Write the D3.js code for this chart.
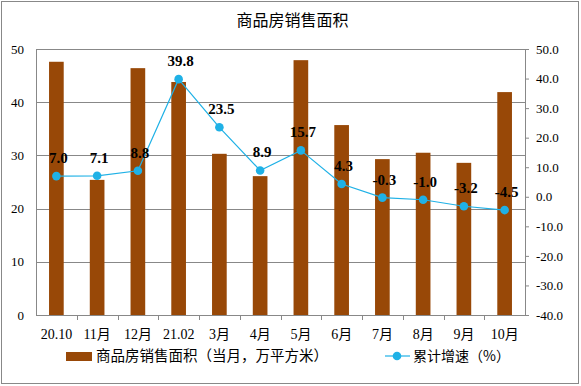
<!DOCTYPE html>
<html>
<head>
<meta charset="utf-8">
<script src="https://cdn.jsdelivr.net/npm/d3@7"></script>
<style>
  body { margin: 0; background: #fff; }
  svg { display: block; }
</style>
</head>
<body>
<div id="chart"></div>
<script>
// Chart data
const categories = ['20.10', '11月', '12月', '21.02', '3月', '4月', '5月', '6月', '7月', '8月', '9月', '10月'];
const areaValues = [47.6, 25.4, 46.4, 43.8, 30.3, 26.1, 47.9, 35.7, 29.3, 30.5, 28.6, 41.9];
const growthValues = [7.0, 7.1, 8.8, 39.8, 23.5, 8.9, 15.7, 4.3, -0.3, -1.0, -3.2, -4.5];
const leftTicks = [0, 10, 20, 30, 40, 50];
const rightTicks = [-40, -30, -20, -10, 0, 10, 20, 30, 40, 50];

const W = 581;
const H = 386;
const margin = { top: 49, right: 56, bottom: 71, left: 36 };
const width = W - margin.left - margin.right;
const height = H - margin.top - margin.bottom;

const barColor = '#984807';
const lineColor = '#1fb1e6';
const gridColor = '#888';
const serif = '"Liberation Serif", "Times New Roman", serif';
const cjk = '"Noto Sans CJK SC", "Liberation Serif", sans-serif';

const svg = d3.select('#chart').append('svg')
  .attr('width', W)
  .attr('height', H);

// outer frame
svg.append('rect')
  .attr('x', 1.5).attr('y', 1.5)
  .attr('width', W - 4).attr('height', H - 4)
  .attr('fill', 'none')
  .attr('stroke', '#888');

svg.append('text')
  .attr('x', W / 2 + 2)
  .attr('y', 26)
  .attr('text-anchor', 'middle')
  .style('font-family', cjk)
  .style('font-size', '16px')
  .text('商品房销售面积');

const g = svg.append('g')
  .attr('transform', `translate(${margin.left},${margin.top})`);

const x = d3.scaleBand()
  .domain(categories)
  .range([0, width])
  .paddingInner(0.64)
  .paddingOuter(0.32);

const yL = d3.scaleLinear().domain([0, 50]).range([height, 0]);
const yR = d3.scaleLinear().domain([-40, 50]).range([height, 0]);

// gridlines
g.selectAll('line.grid')
  .data(leftTicks.slice(1))
  .enter().append('line')
  .attr('class', 'grid')
  .attr('x1', 0).attr('x2', width)
  .attr('y1', d => Math.round(yL(d)) + 0.5)
  .attr('y2', d => Math.round(yL(d)) + 0.5)
  .attr('stroke', gridColor);

// plot frame: left, right, bottom
g.append('line').attr('x1', 0.5).attr('x2', 0.5).attr('y1', 0).attr('y2', height).attr('stroke', gridColor);
g.append('line').attr('x1', width + 0.5).attr('x2', width + 0.5).attr('y1', 0).attr('y2', height).attr('stroke', gridColor);
g.append('line').attr('x1', 0).attr('x2', width).attr('y1', height + 0.5).attr('y2', height + 0.5).attr('stroke', gridColor);

// bars
g.selectAll('rect.bar')
  .data(areaValues)
  .enter().append('rect')
  .attr('class', 'bar')
  .attr('x', (d, i) => x(categories[i]))
  .attr('width', x.bandwidth())
  .attr('y', d => yL(d))
  .attr('height', d => height - yL(d))
  .attr('fill', barColor);

// left axis
const axL = g.append('g')
  .call(d3.axisLeft(yL).tickValues(leftTicks).tickSize(0).tickPadding(12));
axL.select('.domain').remove();
axL.selectAll('text')
  .style('font-family', serif)
  .style('font-size', '13px')
  .attr('fill', '#000');

// right axis
const axR = g.append('g')
  .attr('transform', `translate(${width},0)`)
  .call(d3.axisRight(yR).tickValues(rightTicks).tickSize(4).tickPadding(7).tickFormat(d3.format('.1f')));
axR.select('.domain').remove();
axR.selectAll('line').attr('stroke', gridColor);
axR.selectAll('text')
  .style('font-family', serif)
  .style('font-size', '13px')
  .attr('fill', '#000')
  .text(d => d3.format('.1f')(d).replace('−', '-'));

// bottom category ticks
const step = x.step();
g.selectAll('line.xtick')
  .data(d3.range(1, categories.length))
  .enter().append('line')
  .attr('class', 'xtick')
  .attr('x1', d => Math.round(d * step) + 0.5)
  .attr('x2', d => Math.round(d * step) + 0.5)
  .attr('y1', height)
  .attr('y2', height + 5)
  .attr('stroke', gridColor);

g.selectAll('text.xlabel')
  .data(categories)
  .enter().append('text')
  .attr('class', 'xlabel')
  .attr('x', d => x(d) + x.bandwidth() / 2)
  .attr('y', height + 24)
  .attr('text-anchor', 'middle')
  .style('font-family', '"Liberation Serif", "Noto Sans CJK SC", serif')
  .style('font-size', '14px')
  .text(d => d);

// growth line
const cx = (d, i) => x(categories[i]) + x.bandwidth() / 2;
const line = d3.line()
  .x(cx)
  .y(d => yR(d));

g.append('path')
  .datum(growthValues)
  .attr('d', line)
  .attr('fill', 'none')
  .attr('stroke', lineColor)
  .attr('stroke-width', 1.2);

g.selectAll('circle.pt')
  .data(growthValues)
  .enter().append('circle')
  .attr('class', 'pt')
  .attr('cx', cx)
  .attr('cy', d => yR(d))
  .attr('r', 4.3)
  .attr('fill', lineColor);

g.selectAll('text.lbl')
  .data(growthValues)
  .enter().append('text')
  .attr('class', 'lbl')
  .attr('x', (d, i) => cx(d, i) + 2)
  .attr('y', d => yR(d) - 13)
  .attr('text-anchor', 'middle')
  .style('font-family', serif)
  .style('font-size', '15px')
  .style('font-weight', 'bold')
  .text(d => d3.format('.1f')(d).replace('−', '-'));

// legend
const lg = svg.append('g').attr('transform', 'translate(0,356)');
lg.append('rect')
  .attr('x', 66).attr('y', -4)
  .attr('width', 26).attr('height', 9)
  .attr('fill', barColor);
lg.append('text')
  .attr('x', 96).attr('y', 5)
  .style('font-family', cjk)
  .style('font-size', '14.5px')
  .text('商品房销售面积（当月，万平方米）');
lg.append('line')
  .attr('x1', 385).attr('x2', 410)
  .attr('y1', 0).attr('y2', 0)
  .attr('stroke', lineColor)
  .attr('stroke-width', 1.2);
lg.append('circle')
  .attr('cx', 397).attr('cy', 0).attr('r', 4.3)
  .attr('fill', lineColor);
lg.append('text')
  .attr('x', 413).attr('y', 5)
  .style('font-family', cjk)
  .style('font-size', '14px')
  .text('累计增速（%）');
</script>
</body>
</html>
